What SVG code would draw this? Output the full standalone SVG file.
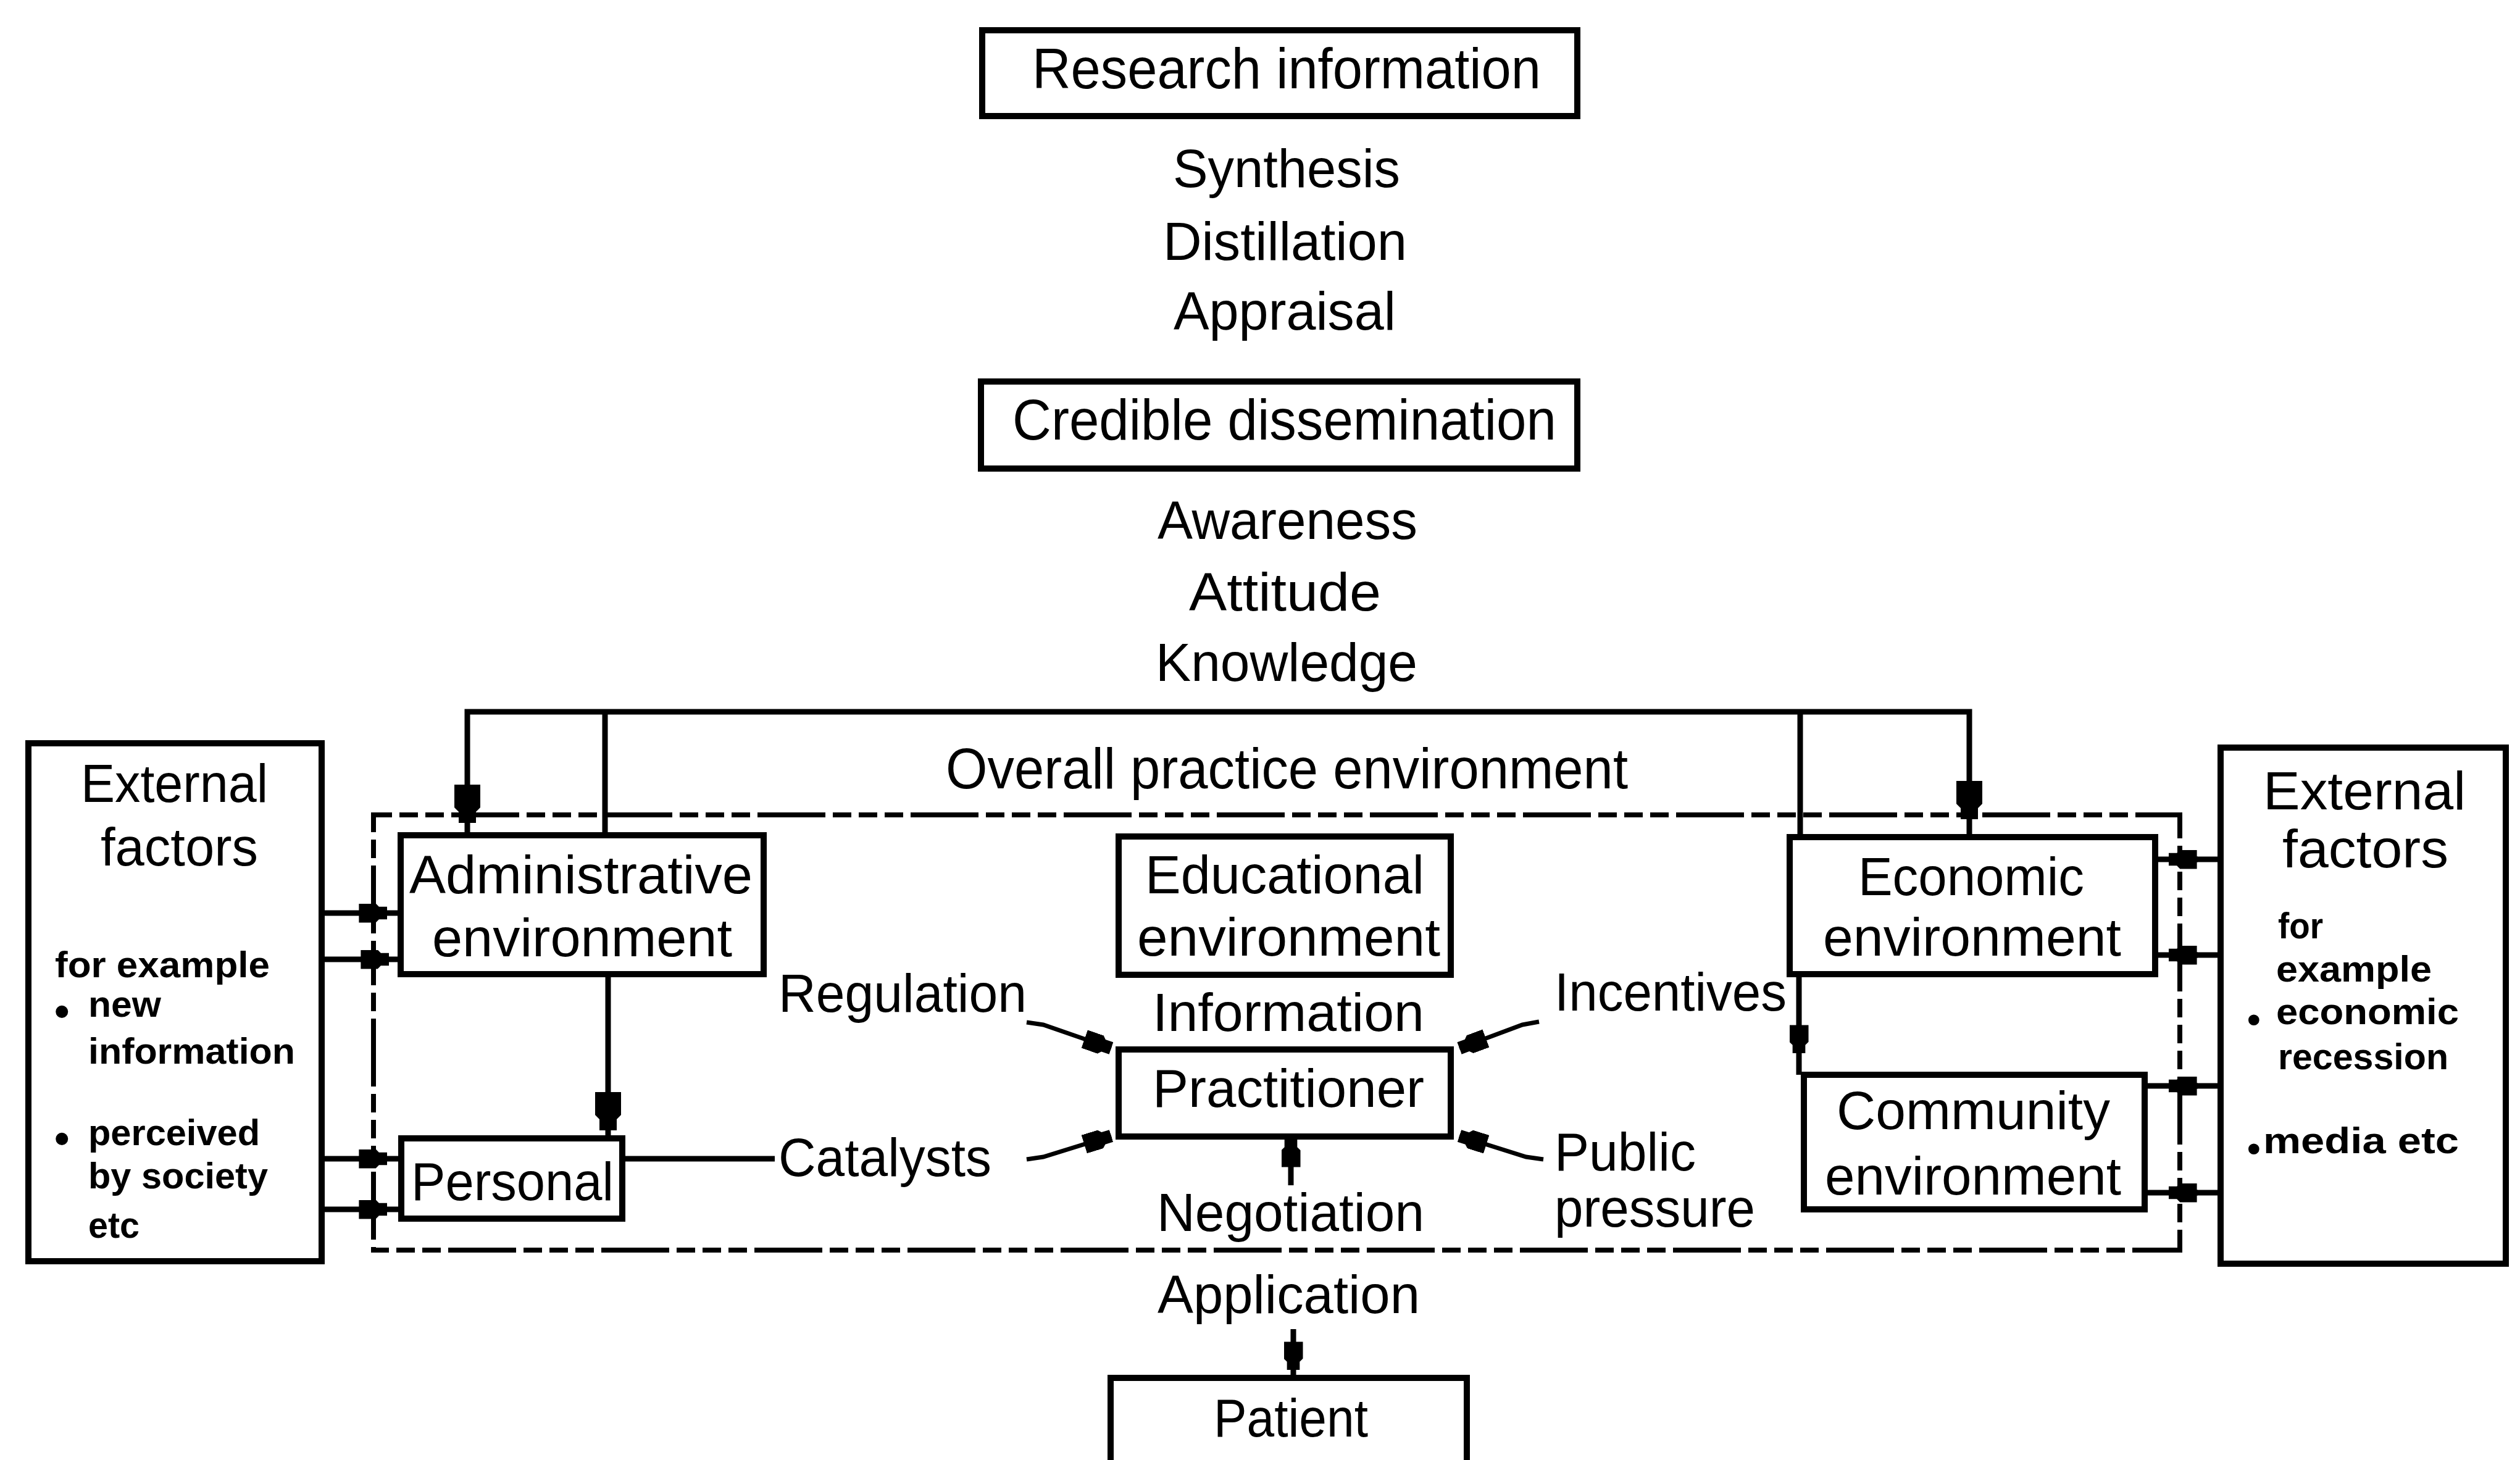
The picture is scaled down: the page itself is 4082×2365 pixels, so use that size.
<svg xmlns="http://www.w3.org/2000/svg" xmlns:xlink="http://www.w3.org/1999/xlink" width="4082" height="2365" viewBox="0 0 4082 2365">
<style>
.t{font-family:"Liberation Sans",Arial,sans-serif;font-size:88px;fill:#000}
.b{font-size:92px}
.s{font-size:60px;font-weight:bold}
.bul{font-size:70px;font-weight:bold}
.box{fill:#fff;stroke:#000;stroke-width:10}
.ln{fill:none;stroke:#000;stroke-width:9}
.dg{fill:none;stroke:#000;stroke-width:7}
.env{fill:none;stroke:#000;stroke-width:8;stroke-dasharray:30 12 30 12 30 12 110 12}
</style>
<defs>
<marker id="ah" viewBox="-32 -21 62 42" markerWidth="62" markerHeight="42" refX="0" refY="0" orient="auto" markerUnits="userSpaceOnUse">
<path d="M-32,-21 H5 L12,-14 H30 V14 H12 L5,21 H-32 Z" fill="#000"/>
</marker>
<marker id="ahs" viewBox="-32 -21 62 42" markerWidth="46" markerHeight="31" refX="0" refY="0" orient="auto" markerUnits="userSpaceOnUse">
<path d="M-32,-21 H5 L12,-14 H30 V14 H12 L5,21 H-32 Z" fill="#000"/>
</marker>
<marker id="ahe" viewBox="-32 -21 62 42" markerWidth="46" markerHeight="31" refX="30" refY="0" orient="auto" markerUnits="userSpaceOnUse">
<path d="M-32,-21 H5 L12,-14 H30 V14 H12 L5,21 H-32 Z" fill="#000"/>
</marker>
</defs>
<rect width="4082" height="2365" fill="#fff"/>

<g id="practice-environment">
<rect class="env" x="605" y="1320" width="2926" height="705"/>
<text class="t b" x="1532" y="1277" textLength="1105" lengthAdjust="spacingAndGlyphs">Overall practice environment</text>
</g>

<g id="connectors">
<path class="ln" d="M757,1349 V1153 H3190 V1352"/>
<path class="ln" d="M980,1153 V1349"/>
<path class="ln" d="M2916,1153 V1351"/>
<path class="ln" d="M757,1280 V1303" marker-end="url(#ah)"/>
<path class="ln" d="M3190,1275 V1297" marker-end="url(#ah)"/>
<path class="ln" d="M985,1583 V1844"/>
<path class="ln" d="M985,1780 V1801" marker-end="url(#ah)"/>
<path class="ln" d="M2914,1578 V1741"/>
<path class="ln" d="M2914,1665 V1684" marker-end="url(#ahs)"/>
<path class="ln" d="M521,1479 H650"/>
<path class="ln" d="M585,1479 H605" marker-end="url(#ahs)"/>
<path class="ln" d="M521,1554 H650"/>
<path class="ln" d="M588,1554 H608" marker-end="url(#ahs)"/>
<path class="ln" d="M521,1877 H650"/>
<path class="ln" d="M585,1877 H605" marker-end="url(#ahs)"/>
<path class="ln" d="M521,1959 H650"/>
<path class="ln" d="M585,1959 H605" marker-end="url(#ahs)"/>
<path class="ln" d="M3491,1392 H3597"/>
<path class="ln" d="M3560,1392 H3535" marker-end="url(#ahs)"/>
<path class="ln" d="M3491,1547 H3597"/>
<path class="ln" d="M3560,1547 H3535" marker-end="url(#ahs)"/>
<path class="ln" d="M3474,1759 H3597"/>
<path class="ln" d="M3560,1759 H3535" marker-end="url(#ahs)"/>
<path class="ln" d="M3474,1932 H3597"/>
<path class="ln" d="M3560,1932 H3535" marker-end="url(#ahs)"/>
<path class="ln" d="M1008,1877 H1255"/>
<path class="dg" d="M1663,1656 L1690,1660 L1800,1698" marker-end="url(#ahe)"/>
<path class="dg" d="M2493,1655 L2466,1660 L2364,1698" marker-end="url(#ahe)"/>
<path class="dg" d="M1663,1878 L1690,1874 L1800,1840" marker-end="url(#ahe)"/>
<path class="dg" d="M2500,1878 L2472,1874 L2364,1840" marker-end="url(#ahe)"/>
<path class="ln" d="M2091,1920 V1845"/>
<path class="ln" d="M2091,1888 V1867" marker-end="url(#ahs)"/>
<path class="ln" d="M2095,2153 V2232"/>
<path class="ln" d="M2095,2178 V2197" marker-end="url(#ahs)"/>
</g>

<g id="research-information">
<rect class="box" x="1591" y="49" width="964" height="139"/>
<text class="t b" x="1672" y="143" textLength="824" lengthAdjust="spacingAndGlyphs">Research information</text>
</g>

<g id="process-1">
<text class="t" x="1900" y="303" textLength="368" lengthAdjust="spacingAndGlyphs">Synthesis</text>
<text class="t" x="1884" y="421" textLength="395" lengthAdjust="spacingAndGlyphs">Distillation</text>
<text class="t" x="1901" y="534" textLength="360" lengthAdjust="spacingAndGlyphs">Appraisal</text>
</g>

<g id="credible-dissemination">
<rect class="box" x="1589" y="618" width="966" height="141"/>
<text class="t b" x="1640" y="712" textLength="881" lengthAdjust="spacingAndGlyphs">Credible dissemination</text>
</g>

<g id="process-2">
<text class="t" x="1875" y="873" textLength="421" lengthAdjust="spacingAndGlyphs">Awareness</text>
<text class="t" x="1926" y="989" textLength="311" lengthAdjust="spacingAndGlyphs">Attitude</text>
<text class="t" x="1872" y="1103" textLength="424" lengthAdjust="spacingAndGlyphs">Knowledge</text>
</g>

<g id="external-factors-left">
<rect class="box" x="46" y="1204" width="475" height="839"/>
<text class="t" x="131" y="1299" textLength="303" lengthAdjust="spacingAndGlyphs">External</text>
<text class="t" x="163" y="1402" textLength="255" lengthAdjust="spacingAndGlyphs">factors</text>
<text class="t s" x="89" y="1583" textLength="348" lengthAdjust="spacingAndGlyphs">for example</text>
<text class="t bul" x="88" y="1662">•</text>
<text class="t s" x="143" y="1647" textLength="118" lengthAdjust="spacingAndGlyphs">new</text>
<text class="t s" x="143" y="1723" textLength="335" lengthAdjust="spacingAndGlyphs">information</text>
<text class="t bul" x="88" y="1868">•</text>
<text class="t s" x="143" y="1855" textLength="278" lengthAdjust="spacingAndGlyphs">perceived</text>
<text class="t s" x="143" y="1925" textLength="291" lengthAdjust="spacingAndGlyphs">by society</text>
<text class="t s" x="143" y="2005" textLength="83" lengthAdjust="spacingAndGlyphs">etc</text>
</g>

<g id="external-factors-right">
<rect class="box" x="3597" y="1211" width="462" height="836"/>
<text class="t" x="3666" y="1311" textLength="328" lengthAdjust="spacingAndGlyphs">External</text>
<text class="t" x="3697" y="1405" textLength="269" lengthAdjust="spacingAndGlyphs">factors</text>
<text class="t s" x="3690" y="1520" textLength="73" lengthAdjust="spacingAndGlyphs">for</text>
<text class="t s" x="3687" y="1590" textLength="252" lengthAdjust="spacingAndGlyphs">example</text>
<text class="t bul" x="3640" y="1672" style="font-size:62px">•</text>
<text class="t s" x="3687" y="1659" textLength="296" lengthAdjust="spacingAndGlyphs">economic</text>
<text class="t s" x="3690" y="1732" textLength="276" lengthAdjust="spacingAndGlyphs">recession</text>
<text class="t bul" x="3640" y="1881" style="font-size:62px">•</text>
<text class="t s" x="3666" y="1868" textLength="317" lengthAdjust="spacingAndGlyphs">media etc</text>
</g>

<g id="administrative-environment">
<rect class="box" x="649" y="1353" width="588" height="225"/>
<text class="t" x="663" y="1447" textLength="556" lengthAdjust="spacingAndGlyphs">Administrative</text>
<text class="t" x="700" y="1549" textLength="486" lengthAdjust="spacingAndGlyphs">environment</text>
</g>

<g id="educational-environment">
<rect class="box" x="1812" y="1355" width="538" height="224"/>
<text class="t" x="1855" y="1447" textLength="452" lengthAdjust="spacingAndGlyphs">Educational</text>
<text class="t" x="1842" y="1548" textLength="491" lengthAdjust="spacingAndGlyphs">environment</text>
</g>

<g id="economic-environment">
<rect class="box" x="2899" y="1356" width="592" height="222"/>
<text class="t" x="3010" y="1450" textLength="366" lengthAdjust="spacingAndGlyphs">Economic</text>
<text class="t" x="2953" y="1548" textLength="483" lengthAdjust="spacingAndGlyphs">environment</text>
</g>

<g id="community-environment">
<rect class="box" x="2922" y="1741" width="552" height="218"/>
<text class="t" x="2975" y="1829" textLength="443" lengthAdjust="spacingAndGlyphs">Community</text>
<text class="t" x="2956" y="1935" textLength="480" lengthAdjust="spacingAndGlyphs">environment</text>
</g>

<g id="personal">
<rect class="box" x="650" y="1844" width="358" height="130"/>
<text class="t" x="666" y="1944" textLength="328" lengthAdjust="spacingAndGlyphs">Personal</text>
</g>

<g id="practitioner">
<rect class="box" x="1812" y="1700" width="538" height="141"/>
<text class="t" x="1867" y="1793" textLength="440" lengthAdjust="spacingAndGlyphs">Practitioner</text>
</g>

<g id="influence-labels">
<text class="t" x="1261" y="1639" textLength="402" lengthAdjust="spacingAndGlyphs">Regulation</text>
<text class="t" x="1867" y="1670" textLength="440" lengthAdjust="spacingAndGlyphs">Information</text>
<text class="t" x="2518" y="1637" textLength="376" lengthAdjust="spacingAndGlyphs">Incentives</text>
<text class="t" x="1261" y="1905" textLength="345" lengthAdjust="spacingAndGlyphs">Catalysts</text>
<text class="t" x="2518" y="1896" textLength="229" lengthAdjust="spacingAndGlyphs">Public</text>
<text class="t" x="2518" y="1987" textLength="325" lengthAdjust="spacingAndGlyphs">pressure</text>
<text class="t" x="1874" y="1994" textLength="433" lengthAdjust="spacingAndGlyphs">Negotiation</text>
<text class="t" x="1875" y="2127" textLength="425" lengthAdjust="spacingAndGlyphs">Application</text>
</g>

<g id="patient">
<rect class="box" x="1799" y="2232" width="577" height="200"/>
<text class="t" x="1966" y="2327" textLength="250" lengthAdjust="spacingAndGlyphs">Patient</text>
</g>
</svg>
